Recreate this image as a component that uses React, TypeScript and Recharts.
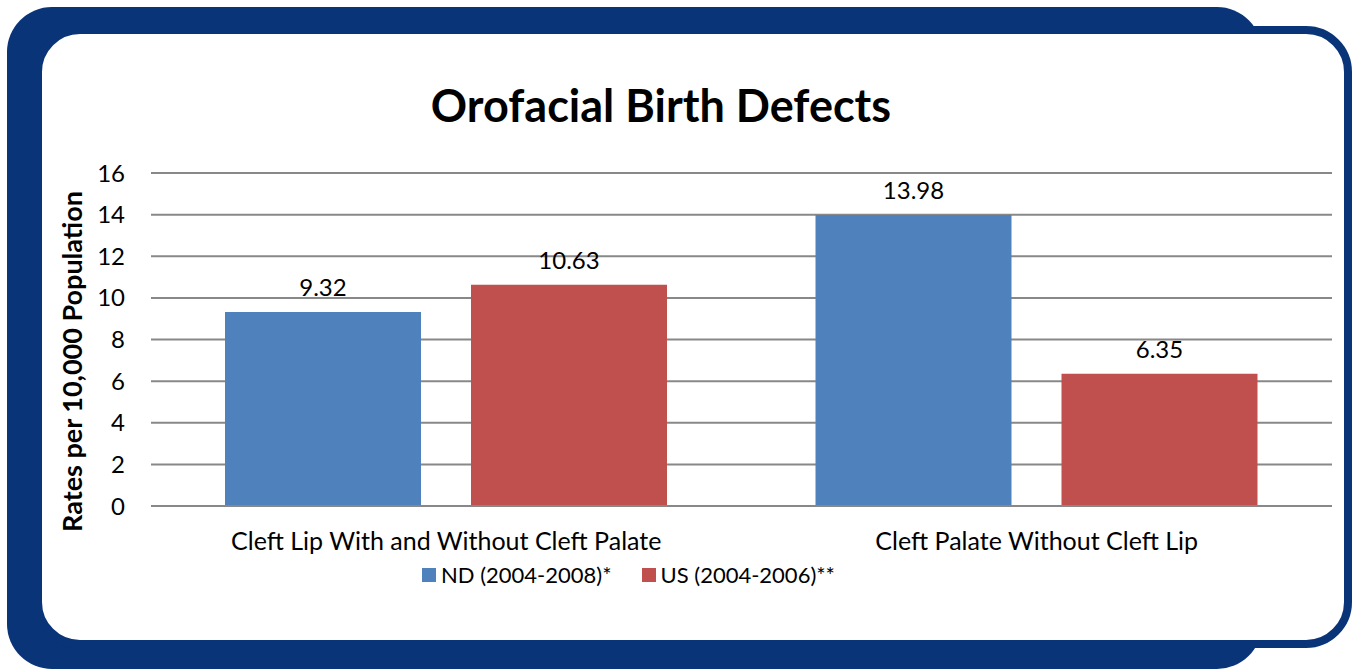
import React from 'react';
import { BarChart, Bar, XAxis, YAxis, CartesianGrid, Legend, LabelList } from 'recharts';

const categories = ['Cleft Lip With and Without Cleft Palate', 'Cleft Palate Without Cleft Lip'];
const ndRates = [9.32, 13.98];
const usRates = [10.63, 6.35];
const yTicks = [0, 2, 4, 6, 8, 10, 12, 14, 16];

const ndName = 'ND (2004-2008)*';
const usName = 'US (2004-2006)**';

const data = categories.map((name, i) => ({ name, nd: ndRates[i], us: usRates[i] }));

const NAVY = '#0a3478';
const FONT = 'Lato, "Open Sans", sans-serif';

const Frame: React.FC = () => (
  <svg width={1353} height={669} style={{ position: 'absolute', left: 0, top: 0 }}>
    <rect x={7} y={7} width={1255} height={662} rx={45} fill={NAVY} />
    <rect x={38} y={30} width={1310} height={614} rx={42} fill="#fff" stroke={NAVY} strokeWidth={8} />
    <text x={661} y={122} textAnchor="middle" fontFamily={FONT} fontWeight={700} fontSize={45} fill="#000">
      Orofacial Birth Defects
    </text>
  </svg>
);

const renderLegend = (props: any) => {
  const { payload } = props;
  return (
    <div style={{ display: 'flex', fontFamily: FONT, fontSize: 22, color: '#000', whiteSpace: 'nowrap' }}>
      {payload.map((entry: any) => (
        <div key={entry.value} style={{ display: 'flex', alignItems: 'center', marginRight: 30 }}>
          <span style={{ width: 14, height: 14, background: entry.color, display: 'inline-block', marginRight: 5 }} />
          <span>{entry.value}</span>
        </div>
      ))}
    </div>
  );
};

const yLabel = (props: any) => {
  const { viewBox } = props;
  const cx = viewBox.x + 82;
  const cy = viewBox.y + viewBox.height / 2 + 22;
  return (
    <text
      x={cx}
      y={cy}
      transform={`rotate(-90, ${cx}, ${cy})`}
      textAnchor="middle"
      fontFamily={FONT}
      fontWeight={700}
      fontSize={27}
      fill="#000"
    >
      Rates per 10,000 Population
    </text>
  );
};

const App: React.FC = () => {
  return (
    <div style={{ position: 'absolute', left: 0, top: 0, width: 1353, height: 669, background: '#fff' }}>
      <Frame />
      <div style={{ position: 'absolute', left: 0, top: 0 }}>
        <BarChart
          width={1353}
          height={669}
          data={data}
          margin={{ top: 173, right: 21, bottom: 0, left: 0 }}
          barGap={50}
          barCategoryGap={74}
        >
          <CartesianGrid horizontal vertical={false} stroke="#888" strokeWidth={2} />
          <XAxis
            dataKey="name"
            height={163}
            axisLine={{ stroke: '#888', strokeWidth: 2 }}
            tickLine={false}
            tickSize={0}
            tickMargin={26}
            tick={{ fontFamily: FONT, fontSize: 25, fill: '#000' }}
            interval={0}
          />
          <YAxis
            width={151}
            domain={[0, 16]}
            ticks={yTicks}
            axisLine={false}
            tickLine={false}
            tickSize={6}
            tickMargin={20}
            tick={{ fontFamily: FONT, fontSize: 24, fill: '#000' }}
            label={{ content: yLabel }}
          />
          <Legend
            verticalAlign="middle"
            layout="horizontal"
            content={renderLegend}
            wrapperStyle={{ top: 561, left: 422, width: 'auto' }}
          />
          <Bar dataKey="nd" name={ndName} fill="#4f81bd" isAnimationActive={false}>
            <LabelList dataKey="nd" position="top" offset={16} fontFamily={FONT} fontSize={24} fill="#000" />
          </Bar>
          <Bar dataKey="us" name={usName} fill="#c0504d" isAnimationActive={false}>
            <LabelList dataKey="us" position="top" offset={16} fontFamily={FONT} fontSize={24} fill="#000" />
          </Bar>
        </BarChart>
      </div>
    </div>
  );
};

export default App;
